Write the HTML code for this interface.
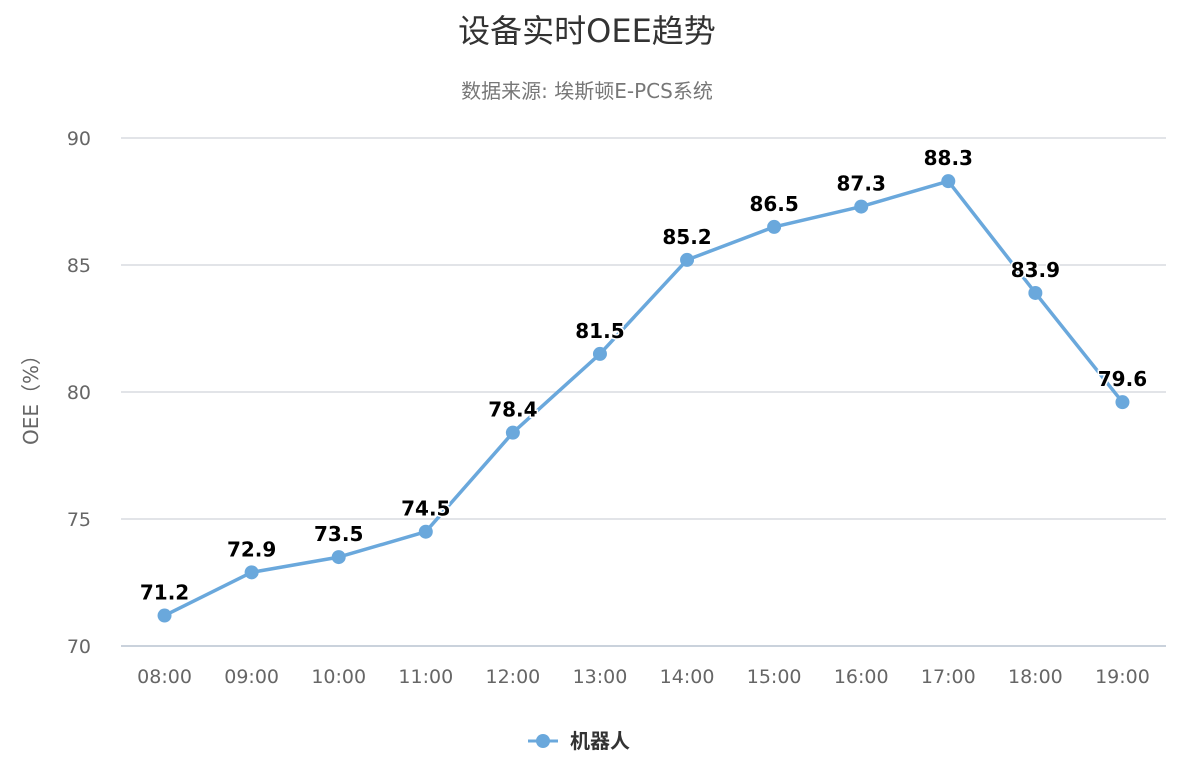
<!DOCTYPE html>
<html><head><meta charset="utf-8"><style>
body{margin:0;background:#fff;}
svg text{font-family:"DejaVu Sans","Liberation Sans","Noto Sans CJK SC",sans-serif;}
</style></head><body>
<svg id="chart" width="1183" height="766" xmlns="http://www.w3.org/2000/svg">
<text x="587" y="42" text-anchor="middle" font-size="32" fill="#333" style="font-family:'DejaVu Sans','Noto Sans CJK SC',sans-serif">设备实时OEE趋势</text>
<text x="587" y="98" text-anchor="middle" font-size="20" fill="#777" style="font-family:'DejaVu Sans','Noto Sans CJK SC',sans-serif">数据来源: 埃斯顿E-PCS系统</text>
<text transform="translate(38,395) rotate(-90)" text-anchor="middle" font-size="20" fill="#666" style="font-family:'DejaVu Sans','Noto Sans CJK SC',sans-serif">OEE（%）</text>
<g id="grid"></g><g id="series"></g>
<g>
<line x1="528" y1="741" x2="558" y2="741" stroke="#6aa8dc" stroke-width="3"/>
<circle cx="543" cy="741" r="7" fill="#6aa8dc"/>
<text x="570" y="748" font-size="20" font-weight="bold" fill="#333" style="font-family:'Noto Sans CJK SC',sans-serif">机器人</text>
</g>
</svg>
<script>
const categories=["08:00","09:00","10:00","11:00","12:00","13:00","14:00","15:00","16:00","17:00","18:00","19:00"];
const values=[71.2,72.9,73.5,74.5,78.4,81.5,85.2,86.5,87.3,88.3,83.9,79.6];
const yTicks=[70,75,80,85,90];
const NS="http://www.w3.org/2000/svg";
const L=121,R=1166,T=138,B=646,yMin=70,yMax=90;
const band=(R-L)/categories.length;
const xS=i=>L+band*(i+0.5);
const yS=v=>B-(v-yMin)/(yMax-yMin)*(B-T);
function mk(tag,attrs,parent,text){const e=document.createElementNS(NS,tag);for(const k in attrs)e.setAttribute(k,attrs[k]);if(text!==undefined)e.textContent=text;parent.appendChild(e);return e;}
const g=document.getElementById('grid'),s=document.getElementById('series');
yTicks.forEach(t=>{
 const ln=mk('line',{x1:L,x2:R,y1:yS(t),y2:yS(t),stroke:t===yMin?'#b8c4d0':'#d8dce0','stroke-width':1.5},g);
 
 
 const tx=mk('text',{x:91,y:yS(t)+7,'text-anchor':'end','font-size':19,fill:'#666'},g,String(t));
 
 
});
categories.forEach((c,i)=>{
 const tx=mk('text',{x:xS(i),y:683,'text-anchor':'middle','font-size':19,fill:'#666'},g,c);
 
 
});
const pl=mk('polyline',{points:values.map((v,i)=>xS(i)+','+yS(v)).join(' '),fill:'none',stroke:'#6aa8dc','stroke-width':3.5,'stroke-linejoin':'round'},s);


values.forEach((v,i)=>{
 const c=mk('circle',{cx:xS(i),cy:yS(v),r:7,fill:'#6aa8dc'},s);
 
 
 const t=mk('text',{x:xS(i),y:yS(v)-16,'text-anchor':'middle','font-size':20,'font-weight':'bold',fill:'#000',stroke:'#fff','stroke-width':3,'paint-order':'stroke'},s,v.toFixed(1));
 
 
});
</script>
</body></html>
